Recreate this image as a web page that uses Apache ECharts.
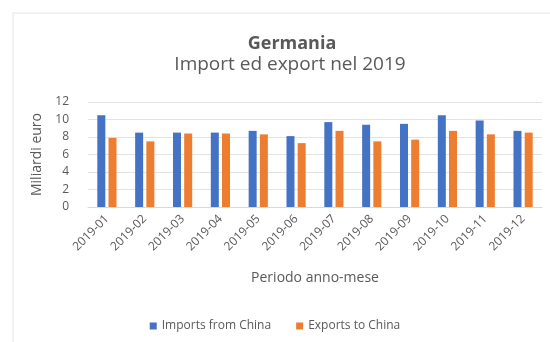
<!DOCTYPE html>
<html><head><meta charset="utf-8">
<script src="https://cdn.jsdelivr.net/npm/echarts@6/dist/echarts.min.js"></script>
<style>html,body{margin:0;padding:0;background:#fff}#c{width:550px;height:342px}</style>
</head><body><div id="c"></div>
<script>
const categories = ['2019-01','2019-02','2019-03','2019-04','2019-05','2019-06','2019-07','2019-08','2019-09','2019-10','2019-11','2019-12'];
const importsFromChina = [10.5, 8.5, 8.5, 8.5, 8.7, 8.1, 9.7, 9.4, 9.5, 10.5, 9.9, 8.7];
const exportsToChina = [7.9, 7.5, 8.4, 8.4, 8.3, 7.3, 8.7, 7.5, 7.7, 8.7, 8.3, 8.5];
const yTicks = [0, 2, 4, 6, 8, 10, 12];
const FONT = '"Open Sans", "Liberation Sans", sans-serif';
const chart = echarts.init(document.getElementById('c'));
chart.setOption({
  animation: false,
  backgroundColor: '#fff',
  textStyle: { fontFamily: FONT },
  graphic: [{
    type: 'rect', shape: { x: 13, y: 13, width: 560, height: 360 },
    style: { fill: 'none', stroke: '#e6e6e6', lineWidth: 1 }, silent: true
  }],
  title: [
    { text: 'Germania', left: 287, top: 30, textAlign: 'center',
      textStyle: { fontFamily: FONT, fontSize: 18, fontWeight: 'bold', color: '#595959' } },
    { text: 'Import ed export nel 2019', left: 285, top: 50, textAlign: 'center',
      textStyle: { fontFamily: FONT, fontSize: 19, fontWeight: 'normal', color: '#595959' } }
  ],
  legend: {
    top: 315, left: 'center', itemWidth: 7, itemHeight: 7, itemGap: 25,
    icon: 'rect',
    textStyle: { fontFamily: FONT, fontSize: 12, color: '#595959' },
    data: ['Imports from China', 'Exports to China']
  },
  grid: { left: 88, right: 8, top: 102, bottom: 135 },
  xAxis: {
    type: 'category', data: categories,
    name: 'Periodo anno-mese', nameLocation: 'middle', nameGap: 64,
    nameTextStyle: { fontFamily: FONT, fontSize: 14, color: '#595959' },
    axisLine: { lineStyle: { color: '#d9d9d9' } },
    axisTick: { show: false },
    axisLabel: { rotate: 45, fontSize: 12, color: '#595959', interval: 0, margin: 10 }
  },
  yAxis: {
    type: 'value', min: 0, max: 12, interval: 2,
    name: 'Miliardi euro', nameLocation: 'middle', nameGap: 41,
    nameTextStyle: { fontFamily: FONT, fontSize: 14, color: '#595959' },
    axisLine: { show: false }, axisTick: { show: false },
    axisLabel: { fontSize: 12, color: '#595959', margin: 19,
      formatter: v => yTicks.includes(v) ? String(v) : '' },
    splitLine: { lineStyle: { color: '#e3e3e3' } }
  },
  series: [
    { name: 'Imports from China', type: 'bar', data: importsFromChina, barWidth: 8, barGap: '40%',
      itemStyle: { color: '#4472C4' } },
    { name: 'Exports to China', type: 'bar', data: exportsToChina, barWidth: 8,
      itemStyle: { color: '#ED7D31' } }
  ]
});
</script></body></html>
